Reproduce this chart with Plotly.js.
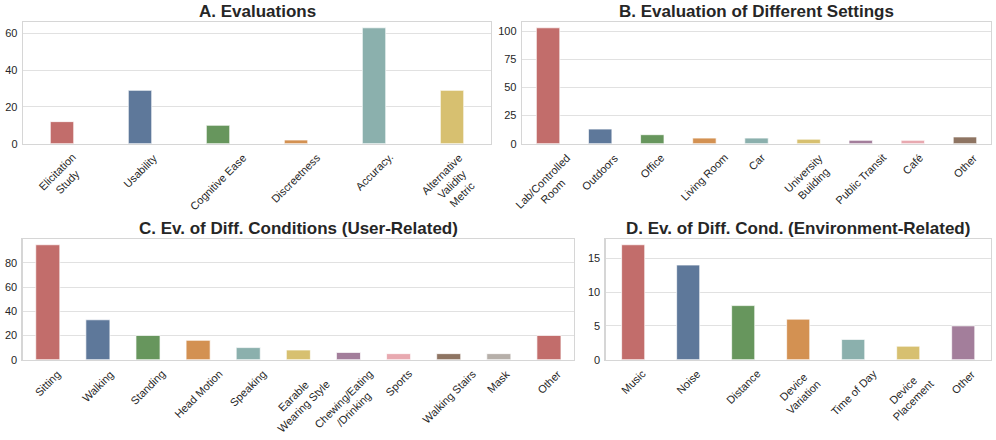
<!DOCTYPE html>
<html><head><meta charset="utf-8">
<script src="https://cdn.plot.ly/plotly-3.0.1.min.js"></script>
<style>html,body{margin:0;padding:0;background:#fff}#chart{width:996px;height:440px}</style>
</head><body><div id="chart"></div>
<script>
// ---- data ----
const evalLabels = ['Elicitation<br>Study','Usability','Cognitive Ease','Discreetness','Accuracy.','Alternative<br>Validity<br>Metric'];
const evalValues = [12, 29, 10, 2, 63, 29];

const settingLabels = ['Lab/Controlled<br>Room','Outdoors','Office','Living Room','Car','University<br>Building','Public Transit','Café','Other'];
const settingValues = [103, 13, 8, 5, 5, 4, 3, 3, 6];

const userLabels = ['Sitting','Walking','Standing','Head Motion','Speaking','Earable<br>Wearing Style','Chewing/Eating<br>/Drinking','Sports','Walking Stairs','Mask','Other'];
const userValues = [95, 33, 20, 16, 10, 8, 6, 5, 5, 5, 20];

const envLabels = ['Music','Noise','Distance','Device<br>Variation','Time of Day','Device<br>Placement','Other'];
const envValues = [17, 14, 8, 6, 3, 2, 5];

const panelTitles = ['A. Evaluations','B. Evaluation of Different Settings','C. Ev. of Diff. Conditions (User-Related)','D. Ev. of Diff. Cond. (Environment-Related)'];

// ---- style ----
const palette = ['#C26D6B','#5E789A','#67965D','#D39152','#8BB0AD','#D7C070','#A37E9B','#E8A9B0','#8E7462','#B6AFA9'];
const FONT = 'Liberation Sans, Arial, Helvetica, sans-serif';
const TXT = '#262626';

const panels = [
  {labels: evalLabels, values: evalValues, xd: [0.0231, 0.4930], yd: [0.6734, 0.9500], bw: 0.30, dtick: 20},
  {labels: settingLabels, values: settingValues, xd: [0.5241, 0.9950], yd: [0.6734, 0.9500], bw: 0.45, dtick: 25},
  {labels: userLabels, values: userValues, xd: [0.0228, 0.5763], yd: [0.1825, 0.4568], bw: 0.48, dtick: 20},
  {labels: envLabels, values: envValues, xd: [0.6081, 0.9947], yd: [0.1825, 0.4568], bw: 0.42, dtick: 5}
];

const data = [];
const layout = {
  width: 996, height: 440,
  margin: {l: 0, r: 0, t: 0, b: 0},
  paper_bgcolor: '#ffffff', plot_bgcolor: '#ffffff',
  showlegend: false,
  font: {family: FONT, color: TXT, size: 11},
  annotations: []
};

panels.forEach((p, k) => {
  const sfx = k === 0 ? '' : String(k + 1);
  data.push({
    type: 'bar',
    x: p.labels.map((_, i) => i),
    y: p.values,
    width: p.bw,
    xaxis: 'x' + sfx, yaxis: 'y' + sfx,
    marker: {color: p.values.map((_, i) => palette[i % palette.length]),
             line: {color: 'rgba(255,255,255,0.7)', width: 1}},
    hoverinfo: 'skip'
  });
  const ymax = Math.max(...p.values) * 1.05;
  layout['xaxis' + sfx] = {
    domain: p.xd, anchor: 'y' + sfx,
    range: [-0.5, p.labels.length - 0.5],
    showticklabels: false, showgrid: false, zeroline: false,
    showline: true, mirror: true, linecolor: '#D6D6D6', linewidth: 1.3,
    ticks: '', fixedrange: true
  };
  layout['yaxis' + sfx] = {
    domain: p.yd, anchor: 'x' + sfx,
    range: [0, ymax], dtick: p.dtick, tick0: 0,
    showgrid: true, gridcolor: '#E1E1E1', gridwidth: 1,
    zeroline: false,
    showline: true, mirror: true, linecolor: '#D6D6D6', linewidth: 1.3,
    ticks: 'outside', ticklen: 2, tickcolor: 'rgba(0,0,0,0)',
    tickfont: {family: FONT, size: 11, color: TXT},
    fixedrange: true
  };
  // title
  layout.annotations.push({
    text: '<b>' + panelTitles[k] + '</b>',
    xref: 'x' + sfx + ' domain', yref: 'y' + sfx + ' domain',
    x: 0.5, y: 1, xanchor: 'center', yanchor: 'bottom', yshift: -1,
    showarrow: false, font: {family: FONT, size: 17, color: TXT}
  });
  // rotated category labels (centered like matplotlib)
  p.labels.forEach((lab, i) => {
    layout.annotations.push({
      text: lab, textangle: -45,
      xref: 'x' + sfx, yref: 'y' + sfx + ' domain',
      x: i, y: 0, xanchor: 'center', yanchor: 'top', yshift: -5,
      align: 'center', showarrow: false,
      font: {family: FONT, size: 11, color: TXT}
    });
  });
});

Plotly.newPlot('chart', data, layout, {displayModeBar: false, staticPlot: true});
</script>
</body></html>
